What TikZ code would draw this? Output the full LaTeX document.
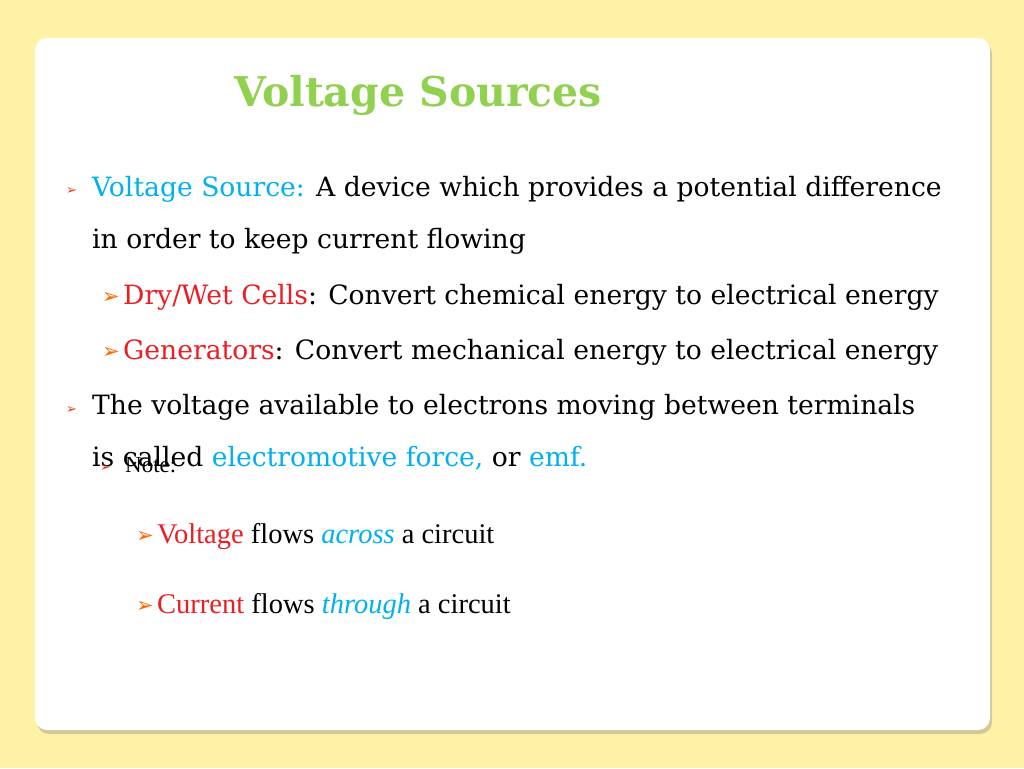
\documentclass[tikz,border=0pt]{standalone}
\usepackage{fontspec}
\setmainfont{DejaVu Serif}
\newfontfamily\timesfont{Liberation Serif}
\newfontfamily\symfont{DejaVu Sans}
\usetikzlibrary{shadows}
\definecolor{slidebg}{RGB}{255,241,166}
\definecolor{titlegreen}{RGB}{146,208,80}
\definecolor{keycyan}{RGB}{0,176,240}
\definecolor{keyred}{RGB}{235,30,35}
\newcommand{\arr}{{\symfont\char"27A2}}

\tikzset{
  line/.style={anchor=base west, inner sep=0pt, font=\fontsize{26.6}{26.6}\selectfont},
  note/.style={anchor=base west, inner sep=0pt, font=\timesfont\fontsize{28.5}{28.5}\selectfont},
  mark1/.style={anchor=base west, inner sep=0pt, font=\fontsize{13}{13}\selectfont, text=keyred!70!orange},
  mark2/.style={anchor=base west, inner sep=0pt, font=\fontsize{21}{21}\selectfont, text=orange!80!red},
}

\begin{document}
\begin{tikzpicture}[x=1pt,y=-1pt]
  \useasboundingbox (0,0) rectangle (1024,768);
  \fill[slidebg] (0,0) rectangle (1024,768);
  % card
  \fill[white, rounded corners=12pt, drop shadow={shadow xshift=2pt, shadow yshift=-4pt, opacity=0.35}]
    (35,38) rectangle (990,730);
  % title
  \node[inner sep=0pt, font=\bfseries\fontsize{41}{41}\selectfont, text=titlegreen] (title) at (418,95) {Voltage Sources};
  % main bullets
  \node[mark1] (m1) at (66,194) {\arr};
  \node[line] (l1) at (92,196) {\textcolor{keycyan}{Voltage Source:} A device which provides a potential difference};
  \node[line] (l2) at (92,248) {in order to keep current flowing};
  \node[mark2] (m3) at (102,303) {\arr};
  \node[line] (l3) at (123,304) {\textcolor{keyred}{Dry/Wet Cells}: Convert chemical energy to electrical energy};
  \node[mark2] (m4) at (102,358) {\arr};
  \node[line] (l4) at (123,359) {\textcolor{keyred}{Generators}: Convert mechanical energy to electrical energy};
  \node[mark1] (m5) at (66,413) {\arr};
  \node[line] (l5) at (92,414) {The voltage available to electrons moving between terminals};
  \node[line] (l6) at (92,466) {is called \textcolor{keycyan}{electromotive force,} or \textcolor{keycyan}{emf.}};
  % note
  \node[mark1] (m7) at (100,471) {\arr};
  \node[note, font=\timesfont\fontsize{23}{23}\selectfont] (l7) at (125,472) {Note:};
  \node[mark2] (m8) at (136,542) {\arr};
  \node[note] (l8) at (157,543) {\textcolor{keyred}{Voltage} flows \textcolor{keycyan}{\itshape across} a circuit};
  \node[mark2] (m9) at (136,612) {\arr};
  \node[note] (l9) at (157,613) {\textcolor{keyred}{Current} flows \textcolor{keycyan}{\itshape through} a circuit};
\end{tikzpicture}
\end{document}
